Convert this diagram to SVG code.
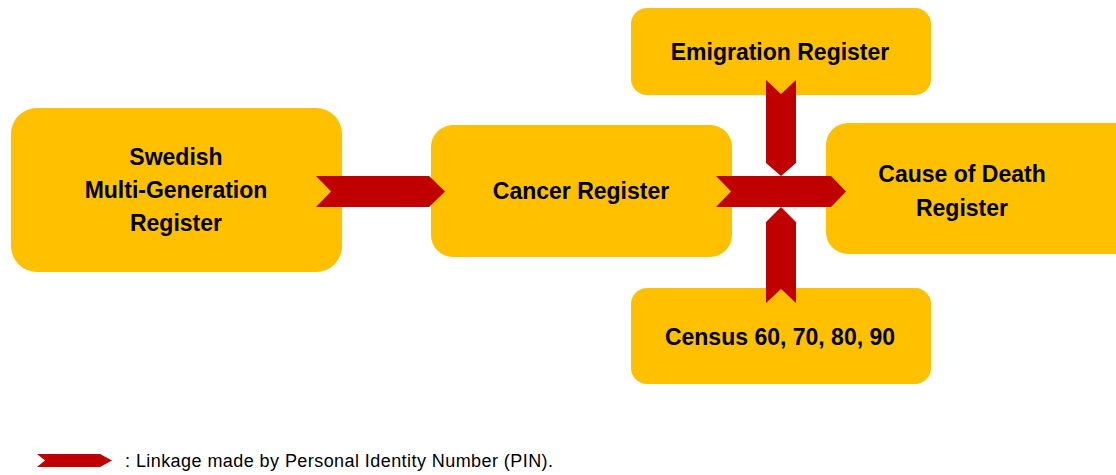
<svg xmlns="http://www.w3.org/2000/svg" width="1116" height="475" viewBox="0 0 1116 475">
<defs>
<style>
.box{fill:#FFC000}
.lbl{font-family:"Liberation Sans",Arial,sans-serif;font-weight:bold;font-size:23px;fill:#000;text-anchor:middle}
.arr{fill:#C00000}
.leg{font-family:"Liberation Sans",Arial,sans-serif;font-size:18px;fill:#000}
</style>
</defs>
<rect width="1116" height="475" fill="#fff"/>
<g id="node-mgr">
<rect class="box" x="11" y="108" width="331" height="164" rx="26"/>
<text class="lbl" x="176" y="165">Swedish</text>
<text class="lbl" x="176" y="198">Multi-Generation</text>
<text class="lbl" x="176" y="231">Register</text>
</g>
<g id="node-cancer">
<rect class="box" x="431" y="125" width="301" height="132" rx="22"/>
<text class="lbl" x="581" y="199">Cancer Register</text>
</g>
<g id="node-emigration">
<rect class="box" x="631" y="8" width="300" height="87" rx="16"/>
<text class="lbl" x="780" y="60">Emigration Register</text>
</g>
<g id="node-death">
<rect class="box" x="826" y="123" width="310" height="131" rx="22"/>
<text class="lbl" x="962" y="182">Cause of Death</text>
<text class="lbl" x="962" y="216">Register</text>
</g>
<g id="node-census">
<rect class="box" x="631" y="288" width="300" height="96" rx="16"/>
<text class="lbl" x="780" y="345">Census 60, 70, 80, 90</text>
</g>
<g id="connectors">
<polygon class="arr" points="316,176 429,176 445,191.5 429,207 316,207 331,191.5"/>
<polygon class="arr" points="716,176 831,176 846,191.5 831,207 716,207 731,191.5"/>
<polygon class="arr" points="766,80 781,94 796,80 796,163 781,176 766,163"/>
<polygon class="arr" points="781,207 796,222 796,303 781,289 766,303 766,222"/>
</g>
<g id="legend">
<polygon class="arr" points="37,454 100,454 112,460.5 100,467 37,467 45,460.5"/>
<text class="leg" x="125" y="467" textLength="428" lengthAdjust="spacing">: Linkage made by Personal Identity Number (PIN).</text>
</g>
</svg>
